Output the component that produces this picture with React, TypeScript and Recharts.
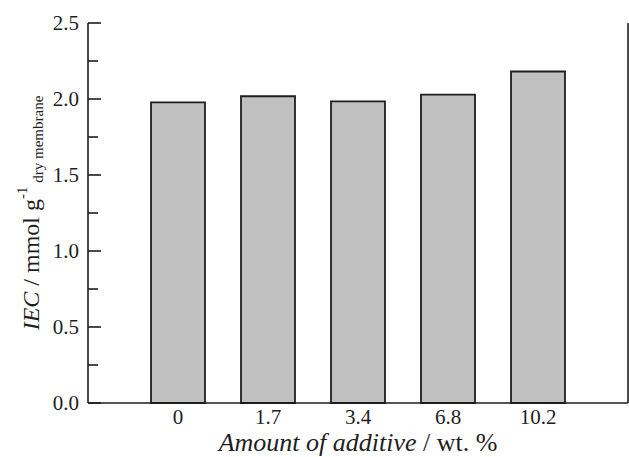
import { BarChart, Bar, XAxis, YAxis, Label } from "recharts";

const categories = ["0", "1.7", "3.4", "6.8", "10.2"];
const iecValues = [1.978, 2.018, 1.985, 2.029, 2.181];
const yTicks = [0, 0.25, 0.5, 0.75, 1, 1.25, 1.5, 1.75, 2, 2.25, 2.5];
const majorTicks = [0, 0.5, 1, 1.5, 2, 2.5];

const data = categories.map((c, i) => ({ amount: c, iec: iecValues[i] }));

const INK = "#1e1e1e";
const FONT = "'Liberation Serif', 'Times New Roman', serif";

// eslint-disable-next-line @typescript-eslint/no-explicit-any
function LeftTick({ x, y, payload }: any) {
  const major = majorTicks.includes(payload.value);
  return (
    <g>
      <line x1={x} x2={x + (major ? 13 : 10)} y1={y} y2={y} stroke={INK} strokeWidth={1.6} />
      {major && (
        <text x={x - 9} y={y} dy="0.35em" textAnchor="end" fontSize={21} fontFamily={FONT} fill={INK}>
          {payload.value.toFixed(1)}
        </text>
      )}
    </g>
  );
}

// eslint-disable-next-line @typescript-eslint/no-explicit-any
function RightTick({ x, y, payload }: any) {
  const major = majorTicks.includes(payload.value);
  return <line x1={x} x2={x - (major ? 13 : 10)} y1={y} y2={y} stroke={INK} strokeWidth={1.6} />;
}

// eslint-disable-next-line @typescript-eslint/no-explicit-any
function BottomTick({ x, y, payload }: any) {
  return (
    <text x={x} y={y + 21} textAnchor="middle" fontSize={21} fontFamily={FONT} fill={INK}>
      {payload.value}
    </text>
  );
}

// eslint-disable-next-line @typescript-eslint/no-explicit-any
function YTitle({ viewBox }: any) {
  const cx = 39;
  const cy = viewBox.y + viewBox.height / 2;
  return (
    <text
      x={cx}
      y={cy}
      transform={`rotate(-90, ${cx}, ${cy})`}
      textAnchor="middle"
      fontSize={24}
      fontFamily={FONT}
      fill={INK}
    >
      <tspan fontStyle="italic">IEC</tspan>
      <tspan> / mmol g</tspan>
      <tspan fontSize={15} dy={-12}>-1</tspan>
      <tspan fontSize={15} dy={16}> dry membrane</tspan>
    </text>
  );
}

export default function App() {
  return (
    <div style={{ position: "absolute", left: 0, top: 0, background: "#fff" }}>
      <BarChart
        width={629}
        height={457}
        data={data}
        margin={{ top: 23, right: 0, bottom: 0, left: 0 }}
        barSize={54}
      >
        <XAxis
          dataKey="amount"
          padding={{ left: 45, right: 45 }}
          height={54}
          axisLine={{ stroke: INK, strokeWidth: 1.6 }}
          tickLine={false}
          tickSize={0}
          tickMargin={0}
          tick={<BottomTick />}
          interval={0}
        >
          <Label
            content={() => (
              <text x={358} y={451} textAnchor="middle" fontSize={26} fontFamily={FONT} fill={INK}>
                <tspan fontStyle="italic">Amount of additive</tspan>
                <tspan> / wt. %</tspan>
              </text>
            )}
          />
        </XAxis>
        <XAxis
          xAxisId="top"
          dataKey="amount"
          orientation="top"
          height={0}
          padding={{ left: 45, right: 45 }}
          axisLine={{ stroke: INK, strokeWidth: 1.6 }}
          tickLine={false}
          tick={false}
        />
        <YAxis
          width={88}
          domain={[0, 2.5]}
          ticks={yTicks}
          interval={0}
          axisLine={{ stroke: INK, strokeWidth: 1.6 }}
          tickLine={false}
          tickSize={0}
          tickMargin={0}
          tick={<LeftTick />}
        >
          <Label content={<YTitle />} />
        </YAxis>
        <YAxis
          yAxisId="right"
          orientation="right"
          width={1}
          domain={[0, 2.5]}
          ticks={yTicks}
          interval={0}
          axisLine={{ stroke: INK, strokeWidth: 1.6 }}
          tickLine={false}
          tickSize={0}
          tickMargin={0}
          tick={<RightTick />}
        />
        <Bar dataKey="iec" fill="#c0c0c0" stroke={INK} strokeWidth={1.8} isAnimationActive={false} />
      </BarChart>
    </div>
  );
}
